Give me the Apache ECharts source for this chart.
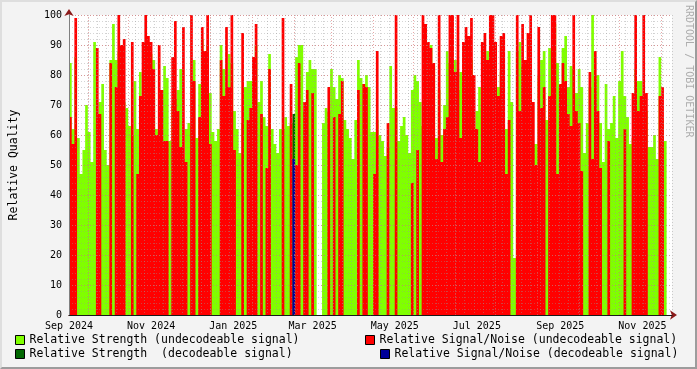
<!DOCTYPE html>
<html>
<head>
<meta charset="utf-8">
<script src="https://cdn.jsdelivr.net/npm/echarts@6/dist/echarts.min.js"></script>
<style>
html, body { margin: 0; padding: 0; background: #f3f3f3; }
#wrap { position: relative; width: 697px; height: 369px; }
#chart { position: absolute; left: 0; top: 0; width: 697px; height: 369px; }
#frame { position: absolute; left: 0; top: 0; width: 697px; height: 369px; box-sizing: border-box;
  border: 2px solid; border-color: #dedede #9c9c9c #9c9c9c #dedede; pointer-events: none; }
</style>
</head>
<body>
<div id="wrap"><div id="chart"></div><div id="frame"></div></div>
<script>
// days since 1 Sep 2024, one value per 2-day bucket
var BUCKET_DAYS = 2;
var AXIS_DAYS = 448;

var monthLabels = ['Sep 2024', 'Nov 2024', 'Jan 2025', 'Mar 2025', 'May 2025', 'Jul 2025', 'Sep 2025', 'Nov 2025'];
var labelDays = [0, 61, 122, 181, 242, 303, 365, 426];
var midMonthDays = [14, 44, 75, 105, 136, 167, 195, 226, 256, 287, 317, 348, 379, 409, 440];

// Relative Strength (undecodeable signal)
var strength = [
  84, 62, 86, 59, 47, 55, 70, 61, 51, 91,
  64, 71, 77, 55, 50, 85, 97, 85, 88, 70,
  71, 69, 63, 60, 78, 62, 81, 70, 85, 85,
  87, 85, 62, 61, 75, 83, 79, 58, 70, 72,
  75, 82, 52, 62, 64, 63, 85, 59, 77, 92,
  87, 90, 74, 61, 58, 62, 90, 82, 64, 87,
  84, 68, 62, 54, 64, 76, 78, 78, 84, 90,
  71, 78, 66, 63, 87, 62, 57, 54, 62, 62,
  66, 63, 64, 64, 86, 90, 90, 68, 81, 85,
  82, 82, 0, 0, 64, 69, 68, 82, 76, 72,
  80, 79, 65, 62, 59, 52, 65, 85, 79, 77,
  80, 76, 61, 61, 65, 60, 58, 53, 56, 83,
  69, 69, 58, 63, 66, 60, 54, 75, 80, 78,
  71, 63, 90, 73, 90, 83, 59, 75, 60, 70,
  88, 84, 78, 85, 75, 81, 86, 64, 75, 85,
  55, 68, 76, 69, 82, 88, 85, 86, 67, 76,
  81, 62, 62, 88, 71, 19, 88, 91, 83, 59,
  53, 87, 57, 57, 80, 85, 88, 65, 89, 88,
  97, 84, 76, 89, 93, 76, 83, 82, 74, 82,
  76, 54, 64, 76, 100, 80, 80, 64, 51, 77,
  62, 64, 73, 59, 78, 88, 73, 66, 57, 59,
  82, 78, 78, 63, 68, 56, 56, 60, 52, 86,
  65, 58
];

// Relative Signal/Noise (undecodeable signal)
var snr = [
  66, 57, 99, 0, 0, 0, 0, 0, 0, 0,
  89, 67, 0, 0, 0, 84, 0, 76, 100, 90,
  92, 0, 0, 91, 0, 47, 73, 91, 100, 93,
  91, 82, 60, 90, 75, 58, 58, 0, 86, 98,
  68, 56, 96, 51, 0, 100, 78, 0, 66, 96,
  88, 100, 57, 0, 0, 0, 85, 73, 96, 76,
  100, 55, 0, 0, 94, 0, 65, 69, 86, 97,
  0, 67, 0, 49, 82, 0, 0, 0, 0, 99,
  0, 0, 77, 0, 50, 84, 0, 71, 75, 0,
  74, 0, 0, 0, 0, 0, 76, 0, 66, 0,
  67, 78, 0, 0, 0, 0, 0, 75, 0, 77,
  76, 0, 0, 47, 88, 0, 0, 0, 64, 0,
  0, 100, 0, 0, 0, 0, 0, 44, 0, 55,
  0, 100, 97, 91, 89, 84, 52, 100, 51, 62,
  66, 100, 100, 81, 100, 59, 91, 96, 93, 99,
  80, 62, 51, 91, 94, 85, 100, 100, 91, 73,
  93, 94, 47, 65, 0, 0, 100, 68, 97, 85,
  94, 100, 71, 50, 96, 69, 76, 0, 73, 100,
  100, 47, 77, 84, 78, 67, 63, 100, 68, 64,
  48, 0, 0, 81, 52, 88, 68, 49, 0, 0,
  58, 0, 0, 0, 0, 0, 62, 0, 0, 74,
  100, 68, 73, 100, 74, 0, 0, 0, 0, 73,
  76, 0
];

// decodeable samples: [bucket, value]
var decStrength = [[83, 67]];
var decSnr = [[83, 52]];

var MONO = "'DejaVu Sans Mono', monospace";

function toSteps(vals) {
  var pts = vals.map(function (v, i) { return [i * BUCKET_DAYS, v]; });
  pts.push([vals.length * BUCKET_DAYS, vals[vals.length - 1]]);
  return pts;
}
function sparseSteps(pairs) {
  var pts = [];
  pairs.forEach(function (p) {
    pts.push([p[0] * BUCKET_DAYS, p[1]]);
    pts.push([(p[0] + 1) * BUCKET_DAYS, p[1]]);
  });
  return pts;
}
function areaSeries(name, color, data, z) {
  return {
    name: name, type: 'line', step: 'end', data: data,
    symbol: 'none', showSymbol: false, silent: true, z: z,
    color: color, itemStyle: { color: color },
    lineStyle: { width: 0 }, areaStyle: { color: color, opacity: 1 }
  };
}
function legendAt(name, left, top) {
  return {
    data: [name], left: left, top: top, padding: 0, orient: 'horizontal',
    icon: 'rect', itemWidth: 9, itemHeight: 9, itemGap: 0, selectedMode: false,
    itemStyle: { borderColor: '#000', borderWidth: 1 },
    textStyle: { fontFamily: MONO, fontSize: 11.5, color: '#000' }
  };
}

var chart = echarts.init(document.getElementById('chart'));
chart.setOption({
  animation: false,
  backgroundColor: '#f3f3f3',
  grid: { left: 67, right: 25, top: 15, bottom: 54, show: true, backgroundColor: '#fff', borderWidth: 0 },
  xAxis: [
    {
      type: 'value', min: 0, max: AXIS_DAYS, position: 'bottom', z: 8,
      axisLine: { show: true, lineStyle: { color: '#1a1a1a', width: 1 } },
      axisTick: { show: false }, splitLine: { show: false },
      axisLabel: {
        customValues: labelDays, margin: 6,
        fontFamily: MONO, fontSize: 10, color: '#000',
        formatter: function (v) { return monthLabels[labelDays.indexOf(v)] || ''; }
      }
    },
    { // weekly minor grid
      type: 'value', min: 0, max: AXIS_DAYS, interval: 7, position: 'top', z: 5,
      axisLine: { show: false }, axisTick: { show: false }, axisLabel: { show: false },
      splitLine: { show: true, lineStyle: { color: 'rgba(150,150,150,0.45)', type: [1, 2], width: 1 } }
    },
    { // arrow
      type: 'value', min: 0, max: AXIS_DAYS, position: 'bottom', z: 7,
      axisLine: { show: true, symbol: ['none', 'arrow'], symbolSize: [7, 7], symbolOffset: [0, 5],
        lineStyle: { color: '#8b1a1a', width: 1 } },
      axisTick: { show: false }, axisLabel: { show: false }, splitLine: { show: false }
    }
  ],
  yAxis: [
    {
      type: 'value', min: 0, max: 100, interval: 10, position: 'left', z: 8,
      name: 'Relative Quality', nameLocation: 'middle', nameGap: 49,
      nameTextStyle: { fontFamily: MONO, fontSize: 11.5, color: '#000' },
      axisLine: { show: true, lineStyle: { color: '#808080', width: 1 } },
      axisTick: { show: false },
      axisLabel: { margin: 7, fontFamily: MONO, fontSize: 10, color: '#000' },
      splitLine: { show: true, lineStyle: { color: 'rgba(215,110,110,0.6)', type: [1, 2], width: 1 } }
    },
    { // minor grid every 2
      type: 'value', min: 0, max: 100, interval: 2, position: 'left', z: 5,
      axisLine: { show: false }, axisTick: { show: false }, axisLabel: { show: false },
      splitLine: { show: true, lineStyle: { color: 'rgba(150,150,150,0.4)', type: [1, 2], width: 1 } }
    },
    { // arrow
      type: 'value', min: 0, max: 100, position: 'left', z: 7,
      axisLine: { show: true, symbol: ['none', 'arrow'], symbolSize: [7, 7], symbolOffset: [0, 6],
        lineStyle: { color: '#8b1a1a', width: 1 } },
      axisTick: { show: false }, axisLabel: { show: false }, splitLine: { show: false }
    }
  ],
  legend: [
    legendAt('Relative Strength (undecodeable signal)', 15, 334),
    legendAt('Relative Strength  (decodeable signal)', 15, 348),
    legendAt('Relative Signal/Noise (undecodeable signal)', 365, 334),
    legendAt('Relative Signal/Noise (decodeable signal)', 380, 348)
  ],
  graphic: [{
    type: 'text', x: 689, y: 5, rotation: -Math.PI / 2, silent: true,
    style: { text: 'RRDTOOL / TOBI OETIKER', fill: '#adadad', font: '10px ' + MONO,
      textAlign: 'left', textVerticalAlign: 'middle' }
  }],
  series: [
    areaSeries('Relative Strength (undecodeable signal)', '#80ff00', toSteps(strength), 2),
    areaSeries('Relative Strength  (decodeable signal)', '#006600', sparseSteps(decStrength), 2),
    areaSeries('Relative Signal/Noise (undecodeable signal)', '#ff0000', toSteps(snr), 2),
    areaSeries('Relative Signal/Noise (decodeable signal)', '#000099', sparseSteps(decSnr), 2),
    {
      type: 'line', data: [], silent: true, z: 4,
      markLine: {
        silent: true, symbol: ['none', 'none'], label: { show: false },
        lineStyle: { color: 'rgba(215,110,110,0.6)', type: [1, 2], width: 1 },
        data: midMonthDays.map(function (d) { return { xAxis: d }; })
      }
    }
  ]
});
</script>
</body>
</html>
